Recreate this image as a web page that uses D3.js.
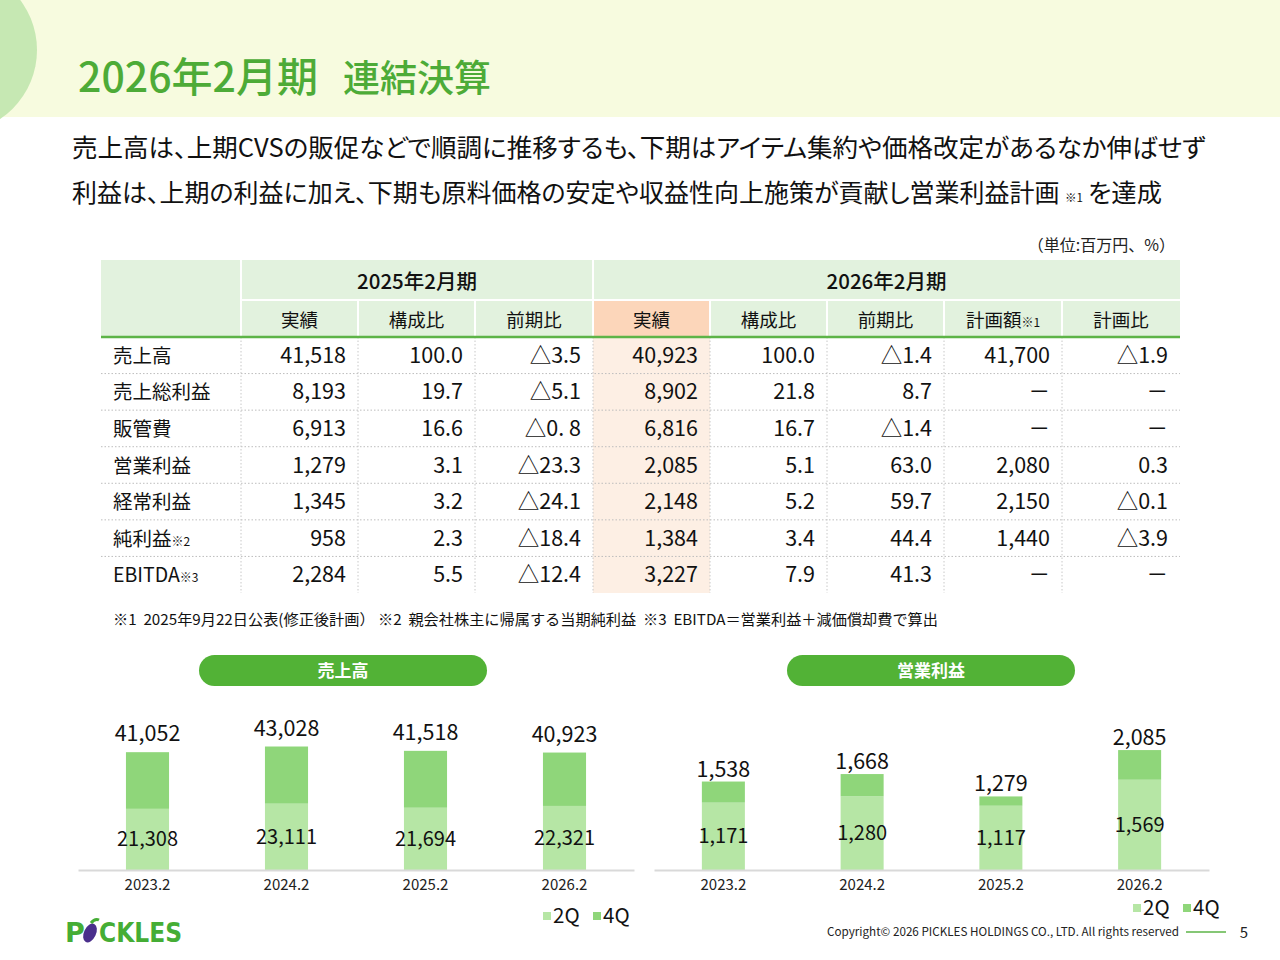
<!DOCTYPE html>
<html>
<head>
<meta charset="utf-8">
<script src="https://cdn.jsdelivr.net/npm/d3@7"></script>
<style>
  body { margin: 0; background: #fff; }
  svg { display: block; font-family: "Noto Sans CJK JP", "Noto Sans", sans-serif; }
  .palt { font-feature-settings: "palt"; }
</style>
</head>
<body>
<div id="container"></div>
<script>
/* DATA */
const rowLabels = ["売上高", "売上総利益", "販管費", "営業利益", "経常利益", "純利益", "EBITDA"];
const rowNotes = ["", "", "", "", "", "※2", "※3"];
const fy25Actual = ["41,518", "8,193", "6,913", "1,279", "1,345", "958", "2,284"];
const fy25Share = ["100.0", "19.7", "16.6", "3.1", "3.2", "2.3", "5.5"];
const fy25YoY = ["△3.5", "△5.1", "△0. 8", "△23.3", "△24.1", "△18.4", "△12.4"];
const fy26Actual = ["40,923", "8,902", "6,816", "2,085", "2,148", "1,384", "3,227"];
const fy26Share = ["100.0", "21.8", "16.7", "5.1", "5.2", "3.4", "7.9"];
const fy26YoY = ["△1.4", "8.7", "△1.4", "63.0", "59.7", "44.4", "41.3"];
const fy26Plan = ["41,700", "－", "－", "2,080", "2,150", "1,440", "－"];
const fy26PlanRatio = ["△1.9", "－", "－", "0.3", "△0.1", "△3.9", "－"];
const groupHeaders = ["2025年2月期", "2026年2月期"];
const subHeaders = ["実績", "構成比", "前期比", "実績", "構成比", "前期比", "計画額", "計画比"];

const years = ["2023.2", "2024.2", "2025.2", "2026.2"];
const sales2Q = [21308, 23111, 21694, 22321];
const salesTotal = [41052, 43028, 41518, 40923];
const op2Q = [1171, 1280, 1117, 1569];
const opTotal = [1538, 1668, 1279, 2085];

/* CONSTANTS */
const width = 1280, height = 960;
const green = "#4dab37", pill = "#52b236";
const c2Q = "#b6e6a5", c4Q = "#8fd67a";

const svg = d3.select("#container").append("svg")
  .attr("width", width).attr("height", height);

// scale a text's font size so its natural width equals the target width
function fit(sel, target) {
  const fs = +sel.attr("font-size");
  const w = sel.node().getComputedTextLength();
  if (w > 0) sel.attr("font-size", (fs * target / w).toFixed(2));
  return sel;
}

// header band
svg.append("rect").attr("width", width).attr("height", 117).attr("fill", "#f7fbdf");
svg.append("circle").attr("cx", -46).attr("cy", 50).attr("r", 83).attr("fill", "#c6e8b3");

fit(svg.append("text").attr("x", 78).attr("y", 92)
  .attr("font-size", 39).attr("font-weight", 500).attr("fill", green)
  .text("2026年2月期"), 240);
fit(svg.append("text").attr("x", 343).attr("y", 92)
  .attr("font-size", 39).attr("font-weight", 500).attr("fill", green)
  .text("連結決算"), 148);

fit(svg.append("text").attr("class", "palt").attr("x", 72).attr("y", 157).attr("font-size", 25.5).attr("fill", "#111")
  .text("売上高は、上期CVSの販促などで順調に推移するも、下期はアイテム集約や価格改定があるなか伸ばせず"), 1134);
fit(svg.append("text").attr("class", "palt").attr("x", 72).attr("y", 202).attr("font-size", 25.5).attr("fill", "#111")
  .text("利益は、上期の利益に加え、下期も原料価格の安定や収益性向上施策が貢献し営業利益計画"), 988);
fit(svg.append("text").attr("x", 1065).attr("y", 202).attr("font-size", 13).attr("fill", "#111")
  .text("※1"), 18);
fit(svg.append("text").attr("class", "palt").attr("x", 1088).attr("y", 202).attr("font-size", 25.5).attr("fill", "#111")
  .text("を達成"), 74);

svg.append("text").attr("x", 1175).attr("y", 251).attr("text-anchor", "end")
  .attr("font-size", 16).attr("fill", "#222").text("（単位:百万円、%）");

/* TABLE */
const colX = [101, 241, 358, 475, 593, 710, 827, 944, 1062, 1180];
const tTop = 260, tMid = 300, tHead = 337, tBottom = 593;
const rowH = (tBottom - tHead) / rowLabels.length;
const table = svg.append("g");

table.append("rect").attr("x", colX[0]).attr("y", tTop)
  .attr("width", colX[9] - colX[0]).attr("height", tHead - tTop).attr("fill", "#e2f2de");
table.append("rect").attr("x", colX[4]).attr("y", tMid)
  .attr("width", colX[5] - colX[4]).attr("height", tHead - tMid).attr("fill", "#fcd6ba");
table.append("rect").attr("x", colX[4]).attr("y", tHead)
  .attr("width", colX[5] - colX[4]).attr("height", tBottom - tHead).attr("fill", "#fdefe4");

// white separators in header
table.append("line").attr("x1", colX[1]).attr("x2", colX[9]).attr("y1", tMid).attr("y2", tMid)
  .attr("stroke", "#fff").attr("stroke-width", 2);
[1, 4].forEach(i => table.append("line").attr("x1", colX[i]).attr("x2", colX[i])
  .attr("y1", tTop).attr("y2", tHead).attr("stroke", "#fff").attr("stroke-width", 2));
[2, 3, 5, 6, 7, 8].forEach(i => table.append("line").attr("x1", colX[i]).attr("x2", colX[i])
  .attr("y1", tMid).attr("y2", tHead).attr("stroke", "#fff").attr("stroke-width", 2));

// body dotted grid
d3.range(1, rowLabels.length).forEach(r => table.append("line")
  .attr("x1", colX[0]).attr("x2", colX[9]).attr("y1", tHead + r * rowH).attr("y2", tHead + r * rowH)
  .attr("stroke", "#bdbdbd").attr("stroke-dasharray", "1.5,2"));
d3.range(1, 9).forEach(i => table.append("line")
  .attr("x1", colX[i]).attr("x2", colX[i]).attr("y1", tHead).attr("y2", tBottom)
  .attr("stroke", "#c8c8c8").attr("stroke-dasharray", "1.5,2"));

table.append("line").attr("x1", colX[0]).attr("x2", colX[9]).attr("y1", tHead).attr("y2", tHead)
  .attr("stroke", "#5db447").attr("stroke-width", 2.5);

// header texts
table.append("text").attr("x", (colX[1] + colX[4]) / 2).attr("y", 289).attr("text-anchor", "middle")
  .attr("font-size", 20.5).attr("font-weight", 500).attr("fill", "#111").text(groupHeaders[0]);
table.append("text").attr("x", (colX[4] + colX[9]) / 2).attr("y", 289).attr("text-anchor", "middle")
  .attr("font-size", 20.5).attr("font-weight", 500).attr("fill", "#111").text(groupHeaders[1]);
subHeaders.forEach((h, i) => {
  const t = table.append("text").attr("x", (colX[i + 1] + colX[i + 2]) / 2).attr("y", 327)
    .attr("text-anchor", "middle").attr("font-size", 18.5).attr("fill", "#111");
  t.append("tspan").text(h);
  if (i === 6) t.append("tspan").attr("font-size", 12).text("※1");
});

// body texts
const columns = [fy25Actual, fy25Share, fy25YoY, fy26Actual, fy26Share, fy26YoY, fy26Plan, fy26PlanRatio];
rowLabels.forEach((lab, r) => {
  const y = tHead + r * rowH + rowH / 2 + 7.5;
  const t = table.append("text").attr("x", 113).attr("y", y).attr("font-size", 19.5).attr("fill", "#111");
  t.append("tspan").text(lab);
  if (rowNotes[r]) t.append("tspan").attr("font-size", 12).text(rowNotes[r]);
  columns.forEach((col, c) => {
    table.append("text").attr("x", colX[c + 2] - 12).attr("y", y).attr("text-anchor", "end")
      .attr("font-size", 21.5).attr("fill", "#111").text(col[r]);
  });
});

svg.append("text").attr("x", 113).attr("y", 625).attr("font-size", 15).attr("fill", "#111")
  .attr("xml:space", "preserve").attr("textLength", 825).attr("lengthAdjust", "spacingAndGlyphs")
  .text("※1  2025年9月22日公表(修正後計画） ※2  親会社株主に帰属する当期純利益  ※3  EBITDA＝営業利益＋減価償却費で算出");

/* CHARTS */
function barChart(opts) {
  const g = svg.append("g");
  const rows = years.map((y, i) => ({ year: y, q2: opts.q2[i], q4: opts.total[i] - opts.q2[i], total: opts.total[i] }));
  const stack = d3.stack().keys(["q2", "q4"])(rows);

  const x = d3.scaleBand().domain(years).range(opts.xRange).paddingInner(0.69).paddingOuter(0.345);
  const y = d3.scaleLinear().domain([0, opts.yMax]).range([870, 870 - opts.yPx]);

  // title pill
  g.append("rect").attr("x", opts.pillX).attr("y", 655).attr("width", 288).attr("height", 31)
    .attr("rx", 15.5).attr("fill", pill);
  g.append("text").attr("x", opts.pillX + 144).attr("y", 677).attr("text-anchor", "middle")
    .attr("font-size", 17).attr("font-weight", 700).attr("fill", "#fff").text(opts.title);

  g.selectAll("g.layer").data(stack).join("g").attr("class", "layer")
    .attr("fill", (d, i) => i === 0 ? c2Q : c4Q)
    .selectAll("rect").data(d => d).join("rect")
    .attr("x", d => x(d.data.year))
    .attr("width", x.bandwidth())
    .attr("y", d => y(d[1]))
    .attr("height", d => y(d[0]) - y(d[1]));

  // axis
  const axis = g.append("g").attr("transform", "translate(0,870)")
    .call(d3.axisBottom(x).tickSize(0).tickPadding(9));
  axis.select(".domain").attr("stroke", "#d9d9d9").attr("stroke-width", 2);
  axis.selectAll("text").attr("font-size", 15).attr("fill", "#222")
    .attr("font-family", "'Noto Sans CJK JP', sans-serif");

  // labels
  const fmt = d3.format(",");
  g.selectAll("text.tot").data(rows).join("text").attr("class", "tot")
    .attr("x", d => x(d.year) + x.bandwidth() / 2)
    .attr("y", d => y(d.total) - opts.topGap)
    .attr("text-anchor", "middle").attr("font-size", 21.5).attr("fill", "#111")
    .text(d => fmt(d.total));
  g.selectAll("text.q2").data(rows).join("text").attr("class", "q2")
    .attr("x", d => x(d.year) + x.bandwidth() / 2)
    .attr("y", d => (y(0) + y(d.q2)) / 2 + 7)
    .attr("text-anchor", "middle").attr("font-size", 20).attr("fill", "#111")
    .text(d => fmt(d.q2));

  // legend
  const lg = g.append("g").attr("transform", `translate(${opts.legendX},${opts.legendY})`);
  [["2Q", c2Q], ["4Q", c4Q]].forEach(([name, c], i) => {
    lg.append("rect").attr("x", i * 50).attr("y", -11).attr("width", 8).attr("height", 8).attr("fill", c);
    lg.append("text").attr("x", i * 50 + 10).attr("y", 0).attr("font-size", 20.5).attr("fill", "#111").text(name);
  });
}

barChart({ title: "売上高", q2: sales2Q, total: salesTotal, xRange: [78, 634], yMax: 50000, yPx: 143.5,
  pillX: 199, topGap: 11, legendX: 543, legendY: 923 });
barChart({ title: "営業利益", q2: op2Q, total: opTotal, xRange: [654, 1209], yMax: 2500, yPx: 143.8,
  pillX: 787, topGap: 5, legendX: 1133, legendY: 915 });

/* FOOTER */
svg.append("text").attr("x", 1179).attr("y", 936).attr("text-anchor", "end")
  .attr("font-size", 11.5).attr("fill", "#222")
  .attr("textLength", 352).attr("lengthAdjust", "spacingAndGlyphs")
  .text("Copyright© 2026 PICKLES HOLDINGS CO., LTD. All rights reserved");
svg.append("line").attr("x1", 1186).attr("x2", 1226).attr("y1", 932).attr("y2", 932)
  .attr("stroke", "#5db447").attr("stroke-width", 1.5);
svg.append("text").attr("x", 1244).attr("y", 938).attr("text-anchor", "middle")
  .attr("font-size", 15).attr("fill", "#222").text("5");

// logo
const logo = svg.append("g").attr("transform", "translate(65,942)");
logo.append("text").attr("x", 0).attr("y", 0).attr("font-size", 27).attr("font-weight", 900)
  .attr("font-family", "'DejaVu Sans', sans-serif").attr("fill", "#45ad35").text("P");
logo.append("ellipse").attr("cx", 25).attr("cy", -9).attr("rx", 6).attr("ry", 10)
  .attr("transform", "rotate(25,25,-9)").attr("fill", "#4a2f8c");
logo.append("path").attr("d", "M26,-19 q4,-5 8,-3").attr("stroke", "#45ad35").attr("stroke-width", 3).attr("fill", "none");
logo.append("text").attr("x", 34).attr("y", 0).attr("font-size", 27).attr("font-weight", 900)
  .attr("font-family", "'DejaVu Sans', sans-serif").attr("fill", "#45ad35")
  .attr("textLength", 83).attr("lengthAdjust", "spacingAndGlyphs").text("CKLES");
</script>
</body>
</html>
